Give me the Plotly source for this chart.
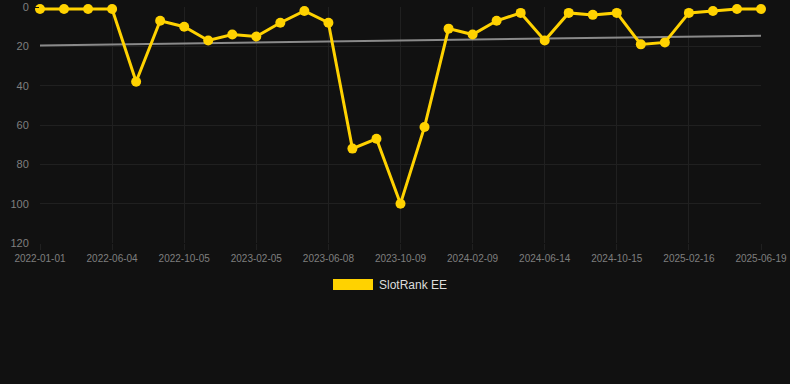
import numpy as np
import plotly.graph_objects as go

dates = [
    "2022-01-01", "2022-02-21", "2022-04-13", "2022-06-04", "2022-07-15",
    "2022-08-25", "2022-10-05", "2022-11-15", "2022-12-26", "2023-02-05",
    "2023-03-18", "2023-04-28", "2023-06-08", "2023-07-19", "2023-08-29",
    "2023-10-09", "2023-11-19", "2023-12-30", "2024-02-09", "2024-03-21",
    "2024-05-02", "2024-06-14", "2024-07-25", "2024-09-04", "2024-10-15",
    "2024-11-25", "2025-01-05", "2025-02-16", "2025-03-29", "2025-05-09",
    "2025-06-19",
]
ranks = [1, 1, 1, 1, 38, 7, 10, 17, 14, 15, 8, 2, 8, 72, 67, 100, 61, 11, 14, 7,
         3, 17, 3, 4, 3, 19, 18, 3, 2, 1, 1]
tick_labels = dates[::3]
y_ticks = [0, 20, 40, 60, 80, 100, 120]
series_name = "SlotRank EE"

idx = np.arange(len(ranks))
slope, intercept = np.polyfit(idx, ranks, 1)
trend = [intercept, intercept + slope * idx[-1]]

GOLD = "#FFD200"
BG = "#111111"
GRID = "#202020"
TICK = "#7f7f7f"

fig = go.Figure()
fig.add_trace(go.Scatter(
    x=[dates[0], dates[-1]], y=trend, mode="lines",
    line=dict(color="#8a8a8a", width=2), showlegend=False, hoverinfo="skip",
    cliponaxis=False,
))
fig.add_trace(go.Scatter(
    x=dates, y=ranks, mode="lines+markers", name=series_name,
    line=dict(color=GOLD, width=3),
    marker=dict(color=GOLD, size=10),
    showlegend=False, cliponaxis=False,
))

L, R, T, B = 40, 29, 7, 141
W, H = 790, 384
pw, ph = W - L - R, H - T - B

def px(x):
    return (x - L) / pw

def py(y):
    return (H - B - y) / ph

fig.add_shape(type="rect", xref="paper", yref="paper",
              x0=px(333), x1=px(373), y0=py(290), y1=py(279),
              fillcolor=GOLD, line=dict(width=0))
fig.add_annotation(xref="paper", yref="paper", x=px(377), y=py(284.5),
                   text=series_name, showarrow=False, xanchor="left", yanchor="middle",
                   font=dict(family="Arial, Liberation Sans, sans-serif", size=12, color="#dddddd"))

fig.update_layout(
    width=W, height=H, autosize=False,
    margin=dict(l=L, r=R, t=T, b=B, pad=0),
    paper_bgcolor=BG, plot_bgcolor=BG,
    font=dict(family="Arial, Liberation Sans, sans-serif", color=TICK),
    showlegend=False,
    xaxis=dict(
        type="category", categoryorder="array", categoryarray=dates,
        range=[0, len(dates) - 1], automargin=False,
        tickmode="array", tickvals=tick_labels, ticktext=tick_labels,
        showgrid=True, gridcolor=GRID, gridwidth=1,
        ticks="outside", ticklen=6, tickcolor=GRID,
        tickfont=dict(size=10, color=TICK), tickangle=0,
        zeroline=False, showline=False,
    ),
    yaxis=dict(
        range=[120, 0], tickmode="array", tickvals=y_ticks, automargin=False,
        showgrid=True, gridcolor=GRID, gridwidth=1,
        ticks="outside", ticklen=8, tickcolor=BG,
        tickfont=dict(size=11, color=TICK),
        zeroline=False, showline=False,
    ),
)

fig.write_html(
    "out.html",
    config={"displayModeBar": False},
    post_script="document.body.style.margin='0';document.body.style.background='#111111';",
)
